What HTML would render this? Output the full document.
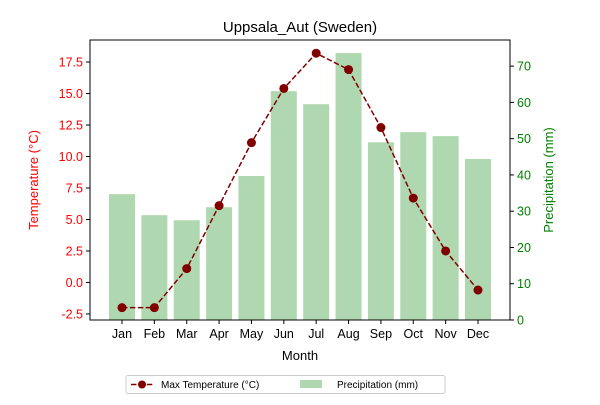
<!DOCTYPE html>
<html><head><meta charset="utf-8"><style>
body{margin:0;background:#fff;font-family:"Liberation Sans","DejaVu Sans",sans-serif;}
</style></head><body>
<svg width="600" height="400" xmlns="http://www.w3.org/2000/svg">
<g id="g"></g>
</svg>
<script>
const months=["Jan","Feb","Mar","Apr","May","Jun","Jul","Aug","Sep","Oct","Nov","Dec"];
const maxTemp=[-2.0,-2.0,1.1,6.1,11.1,15.4,18.2,16.9,12.3,6.7,2.5,-0.6];
const precip=[34.7,28.9,27.5,31.1,39.7,63.1,59.5,73.6,49.0,51.8,50.7,44.4];
const leftTicks=[-2.5,0.0,2.5,5.0,7.5,10.0,12.5,15.0,17.5];
const rightTicks=[0,10,20,30,40,50,60,70];
const L=90,R=510,T=40,B=320;
const tMin=-2.98,tMax=19.25,pMax=77.2;
const x=i=>122+i*(478-122)/11;
const yT=v=>B-(v-tMin)/(tMax-tMin)*(B-T);
const yP=v=>B-v/pMax*(B-T);
const NS="http://www.w3.org/2000/svg";
const g=document.getElementById('g');
function mk(t,a,txt){const e=document.createElementNS(NS,t);for(const k in a)e.setAttribute(k,a[k]);if(txt!==undefined)e.textContent=txt;g.appendChild(e);return e;}
// bars
precip.forEach((v,i)=>{const e=mk('rect',{x:x(i)-13,y:yP(v),width:26,height:B-yP(v),fill:'#b0d8b0'});

});
// line
let d=maxTemp.map((v,i)=>(i?'L':'M')+x(i)+','+yT(v)).join(' ');
const ln=mk('path',{d:d,fill:'none',stroke:'#800000','stroke-width':1.5,'stroke-dasharray':'5.5,2.4'});


maxTemp.forEach((v,i)=>{const c=mk('circle',{cx:x(i),cy:yT(v),r:4.5,fill:'#800000'});

});
// frame
const fr=mk('rect',{x:L,y:T,width:R-L,height:B-T,fill:'none',stroke:'#000','stroke-width':1});


// left ticks
leftTicks.forEach(v=>{const y=yT(v);mk('line',{x1:L-4,x2:L,y1:y,y2:y,stroke:'#000'});
const t=mk('text',{x:L-7,y:y+4.5,'text-anchor':'end','font-size':12.5,fill:'red'},v.toFixed(1));

});
rightTicks.forEach(v=>{const y=yP(v);mk('line',{x1:R,x2:R+4,y1:y,y2:y,stroke:'#000'});
const t=mk('text',{x:R+7,y:y+4.5,'font-size':12.5,fill:'green'},String(v));

});
months.forEach((m,i)=>{mk('line',{x1:x(i),x2:x(i),y1:B,y2:B+4,stroke:'#000'});
const t=mk('text',{x:x(i),y:B+18,'text-anchor':'middle','font-size':12.5},m);

});
let t=mk('text',{x:300,y:32,'text-anchor':'middle','font-size':15},'Uppsala_Aut (Sweden)');

t=mk('text',{x:300,y:360,'text-anchor':'middle','font-size':13},'Month');

t=mk('text',{x:0,y:0,'text-anchor':'middle','font-size':13,fill:'red',transform:'translate(38,180) rotate(-90)'},'Temperature (°C)');

t=mk('text',{x:0,y:0,'text-anchor':'middle','font-size':13,fill:'green',transform:'translate(553,180) rotate(-90)'},'Precipitation (mm)');

// legend
const lg=mk('rect',{x:126,y:375.5,width:319,height:18,rx:2,fill:'#fff',stroke:'#ccc'});

mk('line',{x1:131,x2:153,y1:384.5,y2:384.5,stroke:'#800000','stroke-width':1.5,'stroke-dasharray':'5.5,2.4'});
mk('circle',{cx:142,cy:384.5,r:4,fill:'#800000'});
t=mk('text',{x:161,y:388,'font-size':10},'Max Temperature (°C)');

mk('rect',{x:300,y:380,width:22,height:8,fill:'#b0d8b0'});
t=mk('text',{x:337,y:388,'font-size':10},'Precipitation (mm)');

</script>
</body></html>
